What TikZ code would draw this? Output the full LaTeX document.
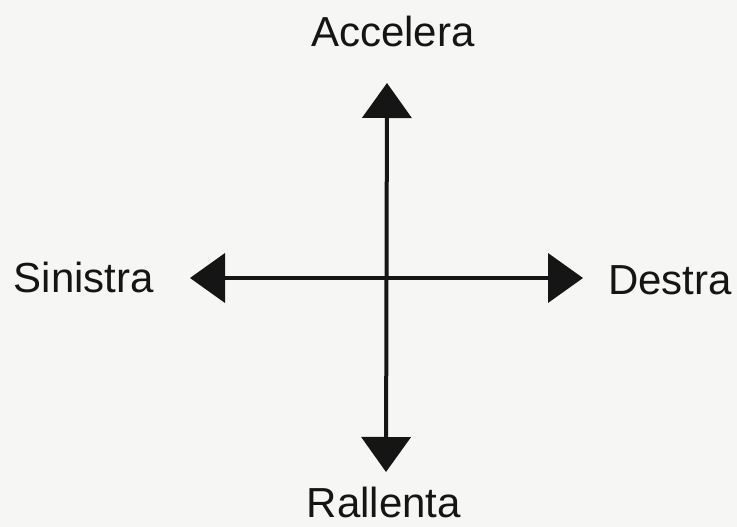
\documentclass[tikz,border=0pt]{standalone}
\usepackage{fontspec}
\setmainfont{Liberation Sans}
\usetikzlibrary{arrows.meta}
\definecolor{paper}{HTML}{F6F6F4}
\definecolor{ink}{HTML}{151515}
\tikzset{
  lbl/.style={inner sep=0pt, anchor=base, text=ink, font=\fontsize{42pt}{46pt}\selectfont},
  axis/.style={draw=ink, line width=4pt, {Triangle[length=35pt,width=49pt]}-{Triangle[length=35pt,width=49pt]}}
}
\begin{document}
\begin{tikzpicture}[x=1pt,y=-1pt]
  \fill[paper] (0,0) rectangle (737,527);
  \useasboundingbox (0,0) rectangle (737,527);
  \coordinate (up) at (387,83);
  \coordinate (dn) at (386,472);
  \coordinate (lf) at (190,278);
  \coordinate (rt) at (583,278);
  \draw[axis] (dn) -- (up);
  \draw[axis] (lf) -- (rt);
  \node[lbl] (acc) at (393,47) {Accelera};
  \node[lbl] (sin) at (84,292) {Sinistra};
  \node[lbl] (des) at (670,294) {Destra};
  \node[lbl] (ral) at (384,517) {Rallenta};
\end{tikzpicture}
\end{document}
